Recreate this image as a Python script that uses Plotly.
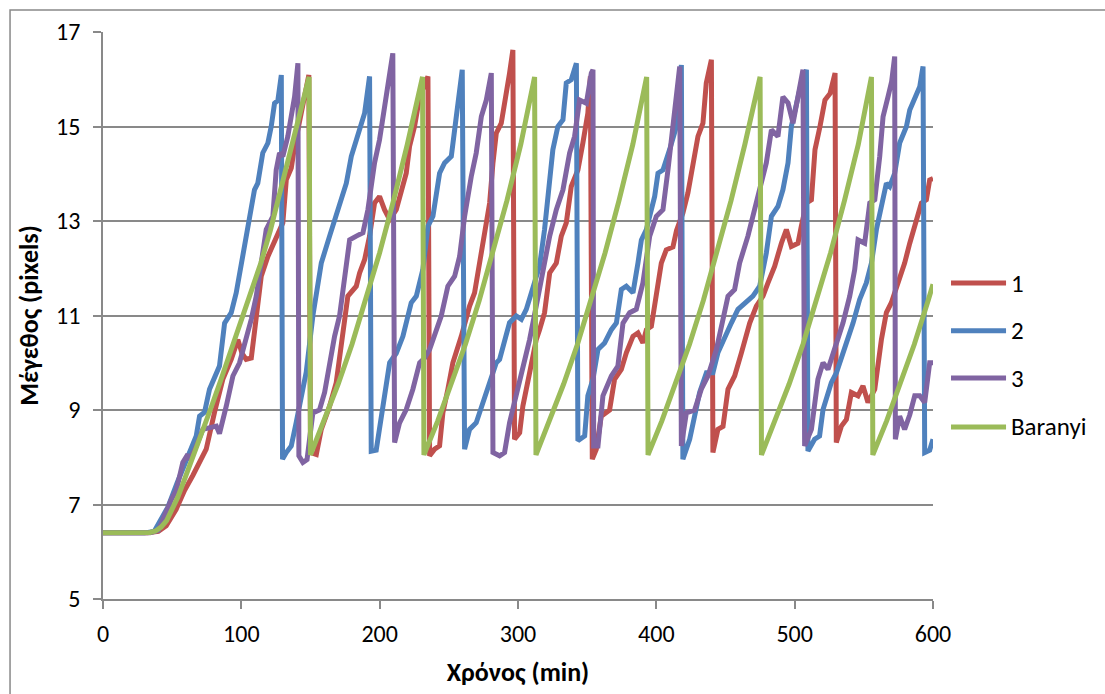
import plotly.graph_objects as go

# ---- data: size (pixels) over time (min) ----
t_1 = [0, 32, 40, 45.7, 52.9, 59, 65, 70, 74.6, 80.6, 86.6, 92.7, 97.5, 100.5, 103.5, 107.2, 110.8, 114.4, 119.2, 125.2,
       130.0, 132.5, 136.1, 138.5, 143.3, 148.8, 150.0, 154.2, 157.8, 163.8, 168.6, 172.2, 177.0, 183.1, 185.5, 189.1,
       192.7, 196.3, 199.9, 203.5, 207.2, 212.0, 214.4, 219.2, 221.6, 225.2, 228.9, 234.9, 236.1, 239.7, 243.3, 245.7,
       249.3, 252.9, 259.0, 265.0, 268.6, 272.2, 275.9, 279.5, 281.9, 284.3, 287.9, 291.5, 293.9, 296.3, 297.5, 301.2,
       303.5, 308.4, 313.2, 315.6, 319.2, 322.9, 327.7, 331.3, 334.9, 338.5, 343.3, 346.9, 350.5, 352.3, 353.7, 356.6,
       360.2, 366.2, 369.8, 374.7, 378.3, 383.1, 386.7, 390.3, 392.8, 396.4, 400.0, 403.6, 407.2, 412.0, 414.6, 419.2,
       422.8, 426.5, 430.1, 433.7, 436.1, 439.8, 440.9, 444.5, 448.2, 451.8, 456.6, 461.5, 467.5, 472.3, 477.1, 480.7,
       485.5, 490.4, 494.0, 497.6, 502.4, 504.8, 508.5, 512.1, 514.7, 518.3, 521.9, 525.6, 529.2, 530.1, 533.8, 537.4,
       541.0, 545.8, 549.4, 553.0, 557.9, 562.7, 566.3, 569.9, 574.7, 579.5, 583.2, 588.0, 591.6, 595.2, 597.6, 600]
v_1 = [6.4, 6.4, 6.43, 6.55, 6.9, 7.3, 7.62, 7.9, 8.17, 8.95, 9.65, 10.07, 10.49, 10.2, 10.07, 10.1, 11.0, 11.83, 12.25, 12.68,
       12.96, 13.87, 14.12, 14.58, 15.35, 16.09, 8.1, 8.06, 8.59, 9.08, 9.58, 10.42, 11.41, 11.62, 11.9, 12.18,
       12.68, 13.38, 13.52, 13.24, 13.03, 13.24, 13.5, 14.01, 14.58, 15.0, 15.63, 16.06, 8.03, 8.17, 8.24, 8.94,
       9.44, 10.0, 10.56, 11.2, 11.48, 12.11, 12.6, 13.38, 14.23, 14.86, 15.07, 15.63, 16.13, 16.62, 8.38, 8.52,
       9.08, 9.79, 10.49, 10.7, 11.06, 11.9, 12.11, 12.68, 12.96, 13.73, 14.08, 14.65, 15.28, 16.06, 7.96, 8.17,
       8.87, 9.0, 9.65, 9.86, 10.21, 10.56, 10.63, 10.42, 10.7, 10.77, 11.41, 12.11, 12.39, 12.45, 12.8, 13.17,
       13.59, 14.15, 14.79, 15.07, 15.92, 16.41, 8.1, 8.59, 8.65, 9.44, 9.72, 10.21, 10.84, 11.2, 11.41, 11.69,
       12.04, 12.53, 12.82, 12.46, 12.53, 12.89, 13.38, 13.45, 14.51, 15.0, 15.56, 15.7, 16.13, 8.31, 8.66, 8.8,
       9.37, 9.3, 9.51, 9.16, 9.44, 10.49, 11.06, 11.27, 11.69, 12.11, 12.53, 13.03, 13.38, 13.45, 13.87, 13.9]

t_2 = [0, 30, 37, 42.1, 47, 53.5, 60.2, 67.4, 69.8, 73.4, 77.0, 80.6, 84.2, 87.9, 92.7, 96.3, 98.7, 103.5, 105.9, 109.5,
       111.9, 115.5, 119.2, 121.6, 124.0, 126.4, 128.9, 129.8, 132.5, 136.1, 139.7, 143.3, 146.9, 151.7, 157.8, 163.8,
       169.8, 175.9, 179.5, 184.2, 189.1, 192.7, 193.9, 197.5, 202.3, 207.2, 212, 216.8, 222.8, 226.5, 231.2, 234.9,
       238.5, 243.3, 246.9, 251.8, 255.4, 259.7, 261.4, 265.0, 269.8, 272.2, 277.1, 279.5, 284.3, 286.7, 290.3, 293.9,
       298.8, 302.4, 306.0, 310.8, 315.6, 319.2, 321.6, 325.2, 328.8, 332.5, 334.9, 338.5, 342.2, 343.3, 348.2, 350.5,
       354.2, 357.8, 362.6, 367.5, 371.1, 374.7, 378.3, 383.1, 386.7, 389.2, 392.8, 395.2, 398.8, 401.2, 404.8, 409.6,
       414.5, 418.1, 419.2, 424.1, 427.7, 431.3, 436.2, 440.9, 444.5, 449.4, 454.2, 459.0, 465.1, 469.8, 474.7, 479.5,
       483.2, 487.9, 491.5, 495.2, 497.6, 502.4, 504.8, 508.5, 509.6, 514.4, 518.0, 520.5, 524.1, 526.5, 530.2, 533.8,
       537.4, 542.2, 547.0, 551.8, 555.5, 559.1, 562.7, 566.3, 568.7, 572.3, 575.9, 580.8, 583.2, 586.8, 590.4, 592.8,
       594.0, 597.6, 600]
v_2 = [6.4, 6.4, 6.43, 6.69, 6.95, 7.45, 7.96, 8.45, 8.87, 8.95, 9.44, 9.72, 9.93, 10.84, 11.06, 11.48, 11.9, 12.68, 13.1, 13.66,
       13.8, 14.44, 14.65, 15.0, 15.49, 15.55, 16.09, 7.96, 8.1, 8.24, 8.74, 9.3, 9.8, 10.99, 12.11, 12.68,
       13.24, 13.8, 14.37, 14.86, 15.28, 16.06, 8.13, 8.15, 9.08, 10.0, 10.2, 10.56, 11.27, 11.41, 11.97, 12.89,
       13.1, 14.01, 14.23, 14.37, 15.21, 16.2, 8.17, 8.59, 8.73, 8.94, 9.3, 9.51, 10.0, 10.07, 10.49, 10.85,
       10.99, 10.92, 11.13, 11.55, 12.05, 12.82, 13.52, 14.51, 15.0, 15.14, 15.92, 15.99, 16.34, 8.35, 8.45, 9.3,
       9.65, 10.28, 10.42, 10.7, 10.84, 11.55, 11.62, 11.48, 12.11, 12.6, 12.82, 13.1, 13.52, 14.01, 14.08, 14.51,
       15.0, 16.3, 7.96, 8.38, 8.94, 9.37, 9.79, 9.79, 10.21, 10.56, 10.84, 11.13, 11.27, 11.41, 11.62, 12.32,
       13.1, 13.31, 13.66, 14.23, 15.0, 15.63, 15.92, 16.2, 8.13, 8.38, 8.45, 9.01, 9.37, 9.58, 9.79, 10.14,
       10.42, 10.84, 11.34, 11.69, 12.11, 12.82, 13.38, 13.8, 13.73, 14.01, 14.65, 15.0, 15.35, 15.63, 15.84, 16.27,
       8.1, 8.15, 8.38]

t_3 = [0, 34, 40, 44, 49.3, 53, 57.7, 61.3, 62.5, 66.9, 72.2, 81.9, 84.2, 89.1, 93.9, 98.7, 103.5, 107.2, 110.8, 113.2,
       118.0, 122.8, 125.2, 127.6, 130.0, 133.6, 136.1, 138.5, 140.9, 141.6, 144.5, 147.5, 151.7, 156.5, 160.2, 163.8,
       167.4, 171.0, 174.6, 178.3, 183.1, 187.9, 191.5, 196.3, 199.9, 203.5, 207.2, 209.5, 210.8, 214.4, 219.2, 224.0,
       228.9, 232.5, 236.1, 239.7, 244.5, 249.3, 254.2, 257.8, 261.4, 266.2, 269.8, 273.5, 277.1, 280.7, 281.9, 286.7,
       290.3, 293.9, 298.8, 303.5, 308.4, 313.2, 315.6, 318.0, 322.9, 327.7, 332.5, 337.3, 340.9, 344.5, 349.4, 353.0,
       354.2, 354.7, 357.8, 361.4, 367.5, 372.2, 375.9, 380.7, 385.5, 390.3, 395.2, 400.0, 404.8, 408.4, 412.0, 414.5,
       416.9, 418.1, 421.7, 427.7, 432.5, 437.3, 443.4, 448.2, 451.8, 456.6, 460.2, 466.2, 469.8, 474.7, 479.5, 483.2,
       487.9, 491.5, 495.2, 498.8, 502.4, 506.0, 507.2, 512.1, 516.8, 520.5, 524.1, 527.7, 531.3, 534.9, 539.8, 543.4,
       545.8, 550.6, 554.3, 557.9, 561.5, 563.9, 567.5, 570.1, 572.3, 572.8, 575.9, 579.5, 583.2, 586.8, 590.4, 594.0,
       597.6, 600]
v_3 = [6.4, 6.4, 6.45, 6.75, 7.1, 7.3, 7.89, 8.06, 7.95, 8.2, 8.59, 8.66, 8.5, 9.08, 9.72, 10.0, 10.49, 10.92, 11.41, 11.9,
       12.82, 13.1, 14.08, 14.44, 14.37, 14.79, 15.28, 15.63, 16.34, 8.03, 7.89, 7.95, 8.94, 9.0, 9.37, 10.0,
       10.56, 10.99, 11.76, 12.6, 12.68, 12.75, 13.24, 14.23, 14.72, 15.42, 15.99, 16.55, 8.31, 8.73, 9.01, 9.44,
       10.0, 10.1, 10.28, 10.56, 10.99, 11.62, 11.83, 12.25, 13.1, 13.94, 14.44, 15.21, 15.56, 16.13, 8.1, 8.03,
       8.1, 8.73, 9.3, 9.86, 10.49, 11.2, 11.6, 11.97, 12.68, 13.24, 13.66, 14.44, 14.79, 15.56, 15.49, 16.13,
       16.2, 8.24, 8.24, 9.3, 9.72, 9.93, 10.84, 11.06, 11.13, 11.69, 12.68, 13.1, 13.24, 14.08, 14.93, 15.63,
       16.27, 8.24, 8.94, 9.0, 9.44, 9.72, 10.28, 10.92, 11.41, 11.55, 12.11, 12.68, 13.1, 13.73, 14.23, 14.93,
       14.79, 15.63, 15.5, 15.07, 15.7, 16.2, 8.24, 8.59, 9.65, 10.0, 9.86, 10.21, 10.56, 10.84, 11.41, 11.97,
       12.6, 12.53, 13.38, 13.45, 14.37, 15.21, 15.63, 15.95, 16.48, 8.38, 8.87, 8.59, 8.9, 9.3, 9.3, 9.16,
       10.0, 10.0]

# Baranyi model curve
t_baranyi = [0, 30, 34, 38, 42, 46, 50, 54, 58, 62, 66, 70, 77.5, 85, 93, 101, 108, 114, 121, 128, 135, 142, 149,
             150, 160, 170, 180, 190, 200, 210, 220, 231,
             232, 242, 252, 262, 272, 282, 292, 302, 312,
             313, 323, 333, 343, 353, 363, 373, 383, 393,
             394, 404, 414, 424, 434, 444, 454, 464, 475,
             476, 486, 496, 506, 516, 526, 536, 546, 555.5,
             556.5, 566.5, 576.5, 586.5, 596.5, 600]
v_baranyi = [6.4, 6.4, 6.41, 6.44, 6.52, 6.66, 6.88, 7.15, 7.46, 7.77, 8.08, 8.38, 9.0, 9.62, 10.3, 11.0, 11.6, 12.1,
             12.8, 13.6, 14.4, 15.2, 16.05,
             8.05, 8.77, 9.55, 10.39, 11.32, 12.33, 13.43, 14.62, 16.05,
             8.05, 8.77, 9.55, 10.39, 11.32, 12.33, 13.43, 14.62, 16.05,
             8.05, 8.77, 9.55, 10.39, 11.32, 12.33, 13.43, 14.62, 16.05,
             8.05, 8.77, 9.55, 10.39, 11.32, 12.33, 13.43, 14.62, 16.05,
             8.05, 8.77, 9.55, 10.39, 11.32, 12.33, 13.43, 14.62, 16.05,
             8.05, 8.77, 9.55, 10.39, 11.32, 11.66]

series_names = ["1", "2", "3", "Baranyi"]
series_colors = ["#C0504D", "#4F81BD", "#8064A2", "#9BBB59"]

x_title = "Χρόνος (min)"
y_title = "Μέγεθος (pixels)"

FONT = "Carlito, Calibri, Lato, 'Open Sans', sans-serif"
GRID = "#898989"
LW = 5

fig = go.Figure()
for name, tx, vy, col in zip(series_names, [t_1, t_2, t_3, t_baranyi], [v_1, v_2, v_3, v_baranyi], series_colors):
    fig.add_trace(go.Scatter(x=tx, y=vy, mode="lines", name=name,
                             line=dict(color=col, width=LW), showlegend=False))

fig.update_layout(
    width=1105, height=694,
    margin=dict(l=103, r=172, t=32, b=93),
    paper_bgcolor="white", plot_bgcolor="white",
    font=dict(family=FONT, size=24, color="#000000"),
)
fig.update_xaxes(
    range=[0, 600], tick0=0, dtick=100, showgrid=False, zeroline=False,
    showline=True, linecolor=GRID, linewidth=1.5,
    ticks="outside", ticklen=8, tickcolor=GRID, tickwidth=1.5,
    tickfont=dict(size=24), ticklabelstandoff=4,
    title=dict(text="<b>" + x_title + "</b>", font=dict(size=26), standoff=16),
)
fig.update_yaxes(
    range=[5, 17], tick0=5, dtick=2, showgrid=True, gridcolor=GRID, gridwidth=1.5,
    zeroline=False, showline=True, linecolor=GRID, linewidth=1.5,
    ticks="outside", ticklen=8, tickcolor=GRID, tickwidth=1.5,
    tickfont=dict(size=24), ticklabelstandoff=8,
    title=dict(text="<b>" + y_title + "</b>", font=dict(size=26), standoff=10),
)

# chart border
fig.add_shape(type="rect", xref="paper", yref="paper", x0=-0.112, y0=-0.3, x1=1.3, y1=1.0387,
              line=dict(color=GRID, width=1.5), fillcolor="rgba(0,0,0,0)", layer="below")

# legend drawn at the right of the plot area
legend_y = [0.5571, 0.4733, 0.3896, 0.3035]
for name, col, ly in zip(series_names, series_colors, legend_y):
    fig.add_shape(type="line", xref="paper", yref="paper", x0=1.0217, x1=1.088, y0=ly, y1=ly,
                  line=dict(color=col, width=LW))
    fig.add_annotation(xref="paper", yref="paper", x=1.0916, y=ly, text=name, showarrow=False,
                       xanchor="left", yanchor="middle", font=dict(size=25, color="#000000"))

fig.write_html("out.html")
